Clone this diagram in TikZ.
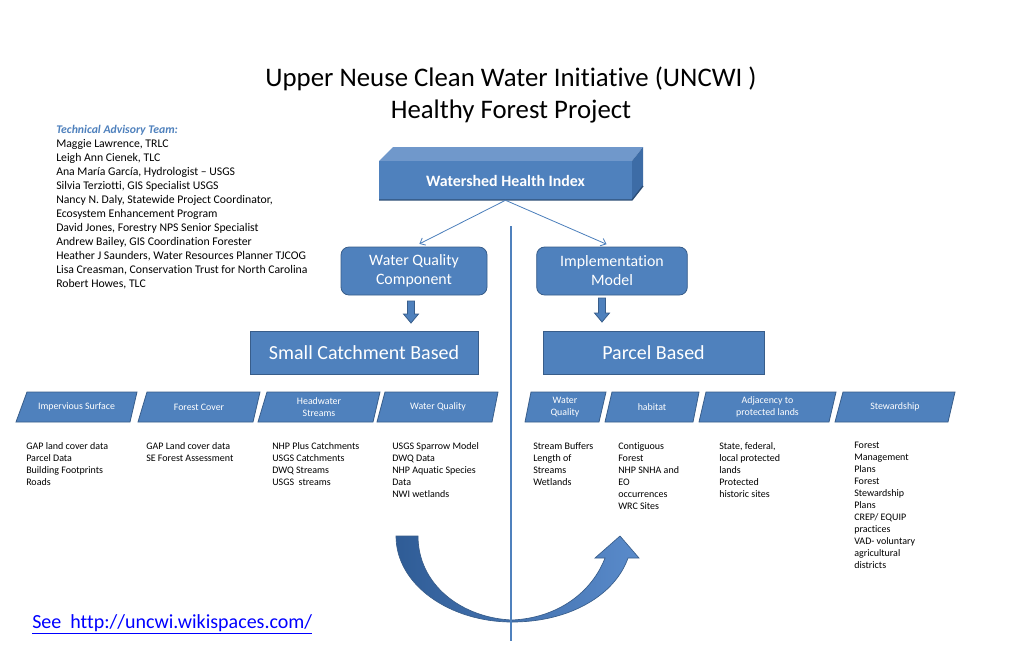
\documentclass[tikz,border=0pt]{standalone}
\usepackage{fontspec}
\setmainfont[Ligatures=NoCommon]{Carlito}
\usetikzlibrary{arrows.meta}
\definecolor{boxblue}{HTML}{4F81BD}
\definecolor{boxedge}{HTML}{385D8A}
\definecolor{topface}{HTML}{7098CB}
\definecolor{sideface}{HTML}{3D6CA6}
\definecolor{frontedge}{HTML}{2C4D75}
\definecolor{darkarc}{HTML}{2F5C96}
\definecolor{lightarc}{HTML}{5A8BCB}
\definecolor{headblue}{HTML}{4F81BD}
\definecolor{linkblue}{HTML}{0000FF}
\definecolor{thinarrow}{HTML}{4A7EBB}
\tikzset{
  rbox/.style={draw=boxedge, fill=boxblue, rounded corners=6pt, text=white, align=center,
    font=\fontsize{11.9}{14.25}\selectfont, line width=0.6pt},
  bigbox/.style={draw=boxedge, fill=boxblue, text=white, align=center,
    font=\fontsize{15}{18}\selectfont, line width=0.6pt},
  para/.style={draw=boxedge, fill=boxblue, line width=0.6pt},
  ptext/.style={text=white, align=center, font=\fontsize{7.4}{8.8}\selectfont, inner sep=0pt},
  listtext/.style={anchor=north west, align=left, inner sep=0pt, font=\fontsize{7.5}{9}\selectfont},
  blockarrow/.style={draw=boxedge, fill=boxblue, line width=0.6pt},
  thin arrow/.style={draw=thinarrow, line width=0.6pt, -{Straight Barb[length=3.5pt,width=6pt]}},
  vline/.style={draw=boxblue, line width=1.6pt}
}
\begin{document}
\begin{tikzpicture}[x=0.75pt,y=-0.75pt]
\useasboundingbox (0,0) rectangle (1024,662);
\fill[white] (0,0) rectangle (1024,662);

% Title
\node[font=\fontsize{20.1}{24}\selectfont, align=center, anchor=base] (title) at (511,118)
  {Upper Neuse Clean Water Initiative (UNCWI )\\Healthy Forest Project};

% Advisory team
\node[anchor=north west, align=left, inner sep=0pt, font=\fontsize{8.8}{10.5}\selectfont] (team) at (56,125)
  {{\color{headblue}\itshape\bfseries Technical Advisory Team:}\\
   Maggie Lawrence, TRLC\\
   Leigh Ann Cienek, TLC\\
   Ana María García, Hydrologist – USGS\\
   Silvia Terziotti, GIS Specialist USGS\\
   Nancy N. Daly, Statewide Project Coordinator,\\
   Ecosystem Enhancement Program\\
   David Jones, Forestry NPS Senior Specialist\\
   Andrew Bailey, GIS Coordination Forester\\
   Heather J Saunders, Water Resources Planner TJCOG\\
   Lisa Creasman, Conservation Trust for North Carolina\\
   Robert Howes, TLC};

% 3D box
\fill[topface] (379,161) -- (393,147) -- (643,147) -- (632,161) -- cycle;
\fill[sideface] (632,161) -- (643,147) -- (643,186) -- (632,200) -- cycle;
\fill[boxblue] (379,161) rectangle (632,200);
\draw[frontedge, line width=1pt] (379,200) -- (632,200) -- (643,186);
\node[text=white, font=\fontsize{11.9}{13}\selectfont\bfseries, minimum width=189.75pt, minimum height=29.25pt, inner sep=0pt] (whi) at (505.5,180.5) {Watershed Health Index};

% Components
\node[rbox, minimum width=109.5pt, minimum height=36pt, inner sep=0pt] (wqc) at (414,271) {Water Quality\\Component};
\node[rbox, minimum width=113pt, minimum height=36pt, inner sep=0pt] (im) at (612,271) {Implementation\\Model};

\draw[thin arrow, shorten >=4.5pt] (whi.south) -- (wqc.north);
\draw[thin arrow, shorten >=4.5pt] (whi.south) -- (im.north);

% block arrows
\draw[blockarrow] (407.5,301) -- (414.5,301) -- (414.5,314) -- (418.5,314) -- (411,323) -- (403.5,314) -- (407.5,314) -- cycle;
\draw[blockarrow] (598.5,298) -- (605.5,298) -- (605.5,313) -- (609.5,313) -- (602,322) -- (594.5,313) -- (598.5,313) -- cycle;

\node[bigbox, minimum width=171pt, minimum height=32.25pt, inner sep=0pt] (scb) at (364,352.5) {Small Catchment Based};
\node[bigbox, minimum width=165.75pt, minimum height=32.25pt, inner sep=0pt] (pb) at (653.5,352.5) {Parcel Based};

% Parallelograms left
\draw[para] (16,422) -- (27,392) -- (137,392) -- (130,422) -- cycle;
\node[ptext] (p1) at (76.5,407) {Impervious Surface};
\draw[para] (138,422) -- (147,392) -- (260,392) -- (253,422) -- cycle;
\node[ptext] (p2) at (199,407) {Forest Cover};
\draw[para] (258,422) -- (267,392) -- (380,392) -- (373,422) -- cycle;
\node[ptext] (p3) at (319,407) {Headwater\\Streams};
\draw[para] (377,422) -- (385,392) -- (498,392) -- (492,422) -- cycle;
\node[ptext] (p4) at (438,407) {Water Quality};
% Parallelograms right
\draw[para] (525,422) -- (531,392) -- (606,392) -- (599,422) -- cycle;
\node[ptext] (p5) at (565,407) {Water\\Quality};
\draw[para] (605,422) -- (612,392) -- (699,392) -- (693,422) -- cycle;
\node[ptext] (p6) at (652,407) {habitat};
\draw[para] (699,422) -- (706,392) -- (836,392) -- (829,422) -- cycle;
\node[ptext] (p7) at (767.5,407) {Adjacency to\\protected lands};
\draw[para] (835,422) -- (843,392) -- (955,392) -- (948,422) -- cycle;
\node[ptext] (p8) at (895,407) {Stewardship};

% lists
\node[listtext] (l1) at (26,442) {GAP land cover data\\Parcel Data\\Building Footprints\\Roads};
\node[listtext] (l2) at (146,442) {GAP Land cover data\\SE Forest Assessment};
\node[listtext] (l3) at (272,442) {NHP Plus Catchments\\USGS Catchments\\DWQ Streams\\USGS\ \ streams};
\node[listtext] (l4) at (392,442) {USGS Sparrow Model\\DWQ Data\\NHP Aquatic Species\\Data\\NWI wetlands};
\node[listtext] (l5) at (533,442) {Stream Buffers\\Length of\\Streams\\Wetlands};
\node[listtext] (l6) at (618,442) {Contiguous\\Forest\\NHP SNHA and\\EO\\occurrences\\WRC Sites};
\node[listtext] (l7) at (719,442) {State, federal,\\local protected\\lands\\Protected\\historic sites};
\node[listtext] (l8) at (854,442) {Forest\\Management\\Plans\\Forest\\Stewardship\\Plans\\CREP/ EQUIP\\practices\\VAD- voluntary\\agricultural\\districts};

% U-turn arrow
\shade[left color=darkarc, right color=lightarc, draw=boxedge, line width=0.5pt]
  (396,536) .. controls (396,585) and (450,622) .. (512,622)
  .. controls (570,622) and (615,595) .. (628,558)
  -- (639,558) -- (620,536) -- (595,558) -- (605,558)
  .. controls (592,592) and (558,618) .. (512,620)
  .. controls (462,618) and (418,585) .. (418,536) -- cycle;

% vertical divider
\draw[vline] (511,226) -- (511,641);

% link
\node[anchor=base west, inner sep=0pt, text=linkblue, font=\fontsize{15}{18}\selectfont] (link) at (32,628)
  {\underline{See\ \ http://uncwi.wikispaces.com/}};
\end{tikzpicture}
\end{document}
